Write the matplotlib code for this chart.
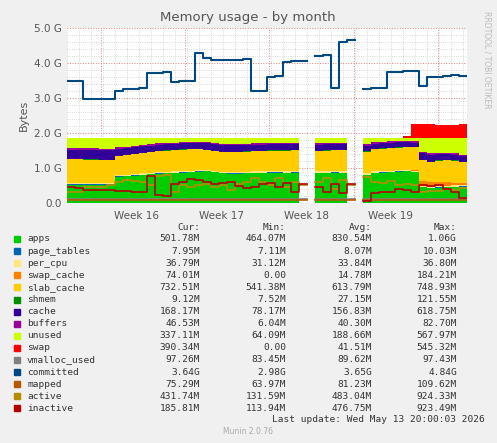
import numpy as np
import matplotlib
matplotlib.use("Agg")
import matplotlib.pyplot as plt

N = 50
nan = np.nan
# values in GB, one per 8-px step
apps = [0.52,0.52,0.52,0.52,0.52,0.52,0.75,0.76,0.78,0.80,0.82,0.84,0.85,0.86,0.87,0.88,0.89,0.90,0.88,0.85,0.84,0.84,0.85,0.86,0.86,0.87,0.87,0.86,0.87,0.87,
        nan,0.86,0.86,0.87,0.86,0.86,nan,0.80,0.86,0.87,0.88,0.89,0.90,0.88,0.45,0.42,0.44,0.45,0.46,0.47]
page_tables = [0.01]*N
per_cpu = [0.035]*N
swap_cache = [0]*43 + [0.02,0.12,0.13,0.12,0.1,0.08,0.07]
slab_cache = [0.68,0.68,0.67,0.67,0.66,0.66,0.55,0.56,0.57,0.58,0.58,0.59,0.60,0.60,0.61,0.61,0.60,0.57,0.56,0.56,0.56,0.56,0.57,0.57,0.58,0.58,0.58,0.59,0.59,0.59,
              nan,0.58,0.59,0.59,0.60,0.60,nan,0.62,0.63,0.64,0.64,0.65,0.65,0.65,0.60,0.58,0.60,0.62,0.62,0.58]
shmem = [0.01]*N
cache = [0.27,0.27,0.28,0.28,0.28,0.28,0.20,0.19,0.19,0.19,0.18,0.18,0.17,0.17,0.17,0.16,0.17,0.18,0.18,0.18,0.19,0.19,0.18,0.18,0.17,0.17,0.17,0.17,0.17,0.17,
         nan,0.17,0.17,0.17,0.16,0.16,nan,0.16,0.15,0.15,0.15,0.15,0.14,0.12,0.20,0.20,0.18,0.17,0.17,0.17]
buffers = [0.04]*N
total_ram = 1.87
swap = [0]*42 + [0.05,0.40,0.40,0.38,0.36,0.36,0.36,0.38]
swap[30] = nan; swap[36] = nan

committed = [3.5,3.5,2.98,2.98,2.98,2.98,3.2,3.25,3.26,3.28,3.72,3.72,3.75,3.45,3.48,3.5,4.3,4.15,4.1,4.1,4.1,4.1,4.12,3.2,3.2,3.6,3.62,4.03,4.05,4.05,
             nan,4.2,4.22,3.3,4.6,4.65,nan,3.25,3.3,3.3,3.75,3.75,3.77,3.78,3.35,3.6,3.6,3.62,3.65,3.63]
inactive = [0.45,0.42,0.38,0.38,0.37,0.36,0.35,0.33,0.32,0.3,0.78,0.22,0.2,0.55,0.6,0.68,0.65,0.6,0.55,0.56,0.6,0.48,0.42,0.45,0.55,0.58,0.45,0.58,0.3,0.55,
            nan,0.45,0.3,0.55,0.28,0.55,nan,0.05,0.28,0.3,0.32,0.4,0.38,0.3,0.5,0.48,0.5,0.4,0.3,0.15]
active = [0.3,0.3,0.45,0.45,0.46,0.5,0.6,0.65,0.62,0.6,0.5,0.78,0.8,0.3,0.5,0.45,0.5,0.55,0.45,0.5,0.38,0.55,0.6,0.7,0.6,0.5,0.72,0.45,0.6,0.5,
          nan,0.6,0.72,0.4,0.65,0.5,nan,0.75,0.6,0.58,0.62,0.5,0.55,0.52,0.3,0.35,0.35,0.4,0.38,0.42]
mapped = [0.08]*N
vmalloc_used = [0.1]*N
for arr in (mapped, vmalloc_used, page_tables, per_cpu, shmem, buffers, swap_cache):
    arr[30] = nan; arr[36] = nan

names = ["apps","page_tables","per_cpu","swap_cache","slab_cache","shmem","cache","buffers","unused","swap",
         "vmalloc_used","committed","mapped","active","inactive"]
colors = ["#00CC00","#0066B3","#FFE680","#FF8000","#FFCC00","#008F00","#330099","#990099","#CCFF00","#FF0000",
          "#808080","#00487D","#B35A00","#B38F00","#B30000"]
cur = ["501.78M","7.95M","36.79M","74.01M","732.51M","9.12M","168.17M","46.53M","337.11M","390.34M","97.26M","3.64G","75.29M","431.74M","185.81M"]
mins = ["464.07M","7.11M","31.12M","0.00","541.38M","7.52M","78.17M","6.04M","64.09M","0.00","83.45M","2.98G","63.97M","131.59M","113.94M"]
avgs = ["830.54M","8.07M","33.84M","14.78M","613.79M","27.15M","156.83M","40.30M","188.66M","41.51M","89.62M","3.65G","81.23M","483.04M","476.75M"]
maxs = ["1.06G","10.03M","36.80M","184.21M","748.93M","121.55M","618.75M","82.70M","567.97M","545.32M","97.43M","4.84G","109.62M","924.33M","923.49M"]
week_labels = ["Week 16","Week 17","Week 18","Week 19"]
week_pos = [8.75, 19.3, 29.9, 40.4]

stack_parts = [np.array(a, float) for a in (apps, page_tables, per_cpu, swap_cache, slab_cache, shmem, cache, buffers)]
used = sum(stack_parts)
unused = total_ram - used
stack = stack_parts + [unused, np.array(swap, float)]

fig = plt.figure(figsize=(4.97, 4.43), dpi=100, facecolor="#F0F0F0")
ax = fig.add_axes([67/497, (443-203)/443, 400/497, 175/443])
ax.set_facecolor("white")
x = np.arange(N + 1)
def ext(a):
    a = np.asarray(a, float)
    return np.append(a, a[-1])
base = np.zeros(N)
for vals, c in zip(stack, colors[:10]):
    top = base + vals
    ax.fill_between(x, ext(base), ext(top), step="post", color=c, lw=0)
    base = top
for name in ["vmalloc_used", "committed", "mapped", "active", "inactive"]:
    i = names.index(name)
    ax.step(x, ext(globals()[name]), where="post", color=colors[i], lw=1.5 if name=="committed" else 1.2)

ax.set_xlim(0, N)
ax.set_ylim(0, 5.0)
ax.set_yticks([0,1,2,3,4,5])
ax.set_yticklabels(["0.0","1.0 G","2.0 G","3.0 G","4.0 G","5.0 G"])
ax.set_yticks(np.arange(0, 5.0, 0.2), minor=True)
ax.set_xticks(week_pos)
ax.set_xticklabels(week_labels)
ax.set_xticks(np.arange(0.0, N, 1.5), minor=True)
ax.tick_params(axis="both", which="both", length=0, labelsize=7.5, colors="#555555")
ax.tick_params(axis="x", pad=6)
ax.grid(which="minor", color="#CCCCCC", ls=":", lw=0.6)
ax.grid(which="major", axis="y", color="#E08080", ls=":", lw=0.7)
for p in [4.2, 14.75, 25.3, 35.85, 46.4]:
    ax.axvline(p, color="#E08080", ls=":", lw=0.7, zorder=0.5)
ax.set_axisbelow(True)
for s in ax.spines.values():
    s.set_visible(False)
ax.set_ylabel("Bytes", fontsize=8, color="#555555")
fig.text(248/497, 1-18/443, "Memory usage - by month", ha="center", va="center", fontsize=9.5, color="#555555")
fig.text(487/497, 1-60/443, "RRDTOOL / TOBI OETIKER", rotation=270, ha="center", va="center", fontsize=5.5, color="#BBBBBB")

mono = "DejaVu Sans Mono"
def fy(y): return 1 - y/443
for colx, h in zip([200, 286, 372, 457], ["Cur:", "Min:", "Avg:", "Max:"]):
    fig.text(colx/497, fy(227), h, ha="right", va="center", family=mono, fontsize=6.8, color="#333333")
for i, n in enumerate(names):
    y = 239 + i*12.1
    fig.patches.append(plt.Rectangle((14/497, fy(y)-3/443), 6/497, 6/443, transform=fig.transFigure, color=colors[i]))
    fig.text(27/497, fy(y), n, ha="left", va="center", family=mono, fontsize=6.8, color="#333333")
    for colx, v in zip([200, 286, 372, 457], [cur[i], mins[i], avgs[i], maxs[i]]):
        fig.text(colx/497, fy(y), v, ha="right", va="center", family=mono, fontsize=6.8, color="#333333")
fig.text(485/497, fy(420), "Last update: Wed May 13 20:00:03 2026", ha="right", va="center", family=mono, fontsize=6.8, color="#333333")
fig.text(248/497, fy(432), "Munin 2.0.76", ha="center", va="center", fontsize=5.5, color="#AAAAAA")
fig.savefig("out.png", dpi=100, facecolor=fig.get_facecolor())
